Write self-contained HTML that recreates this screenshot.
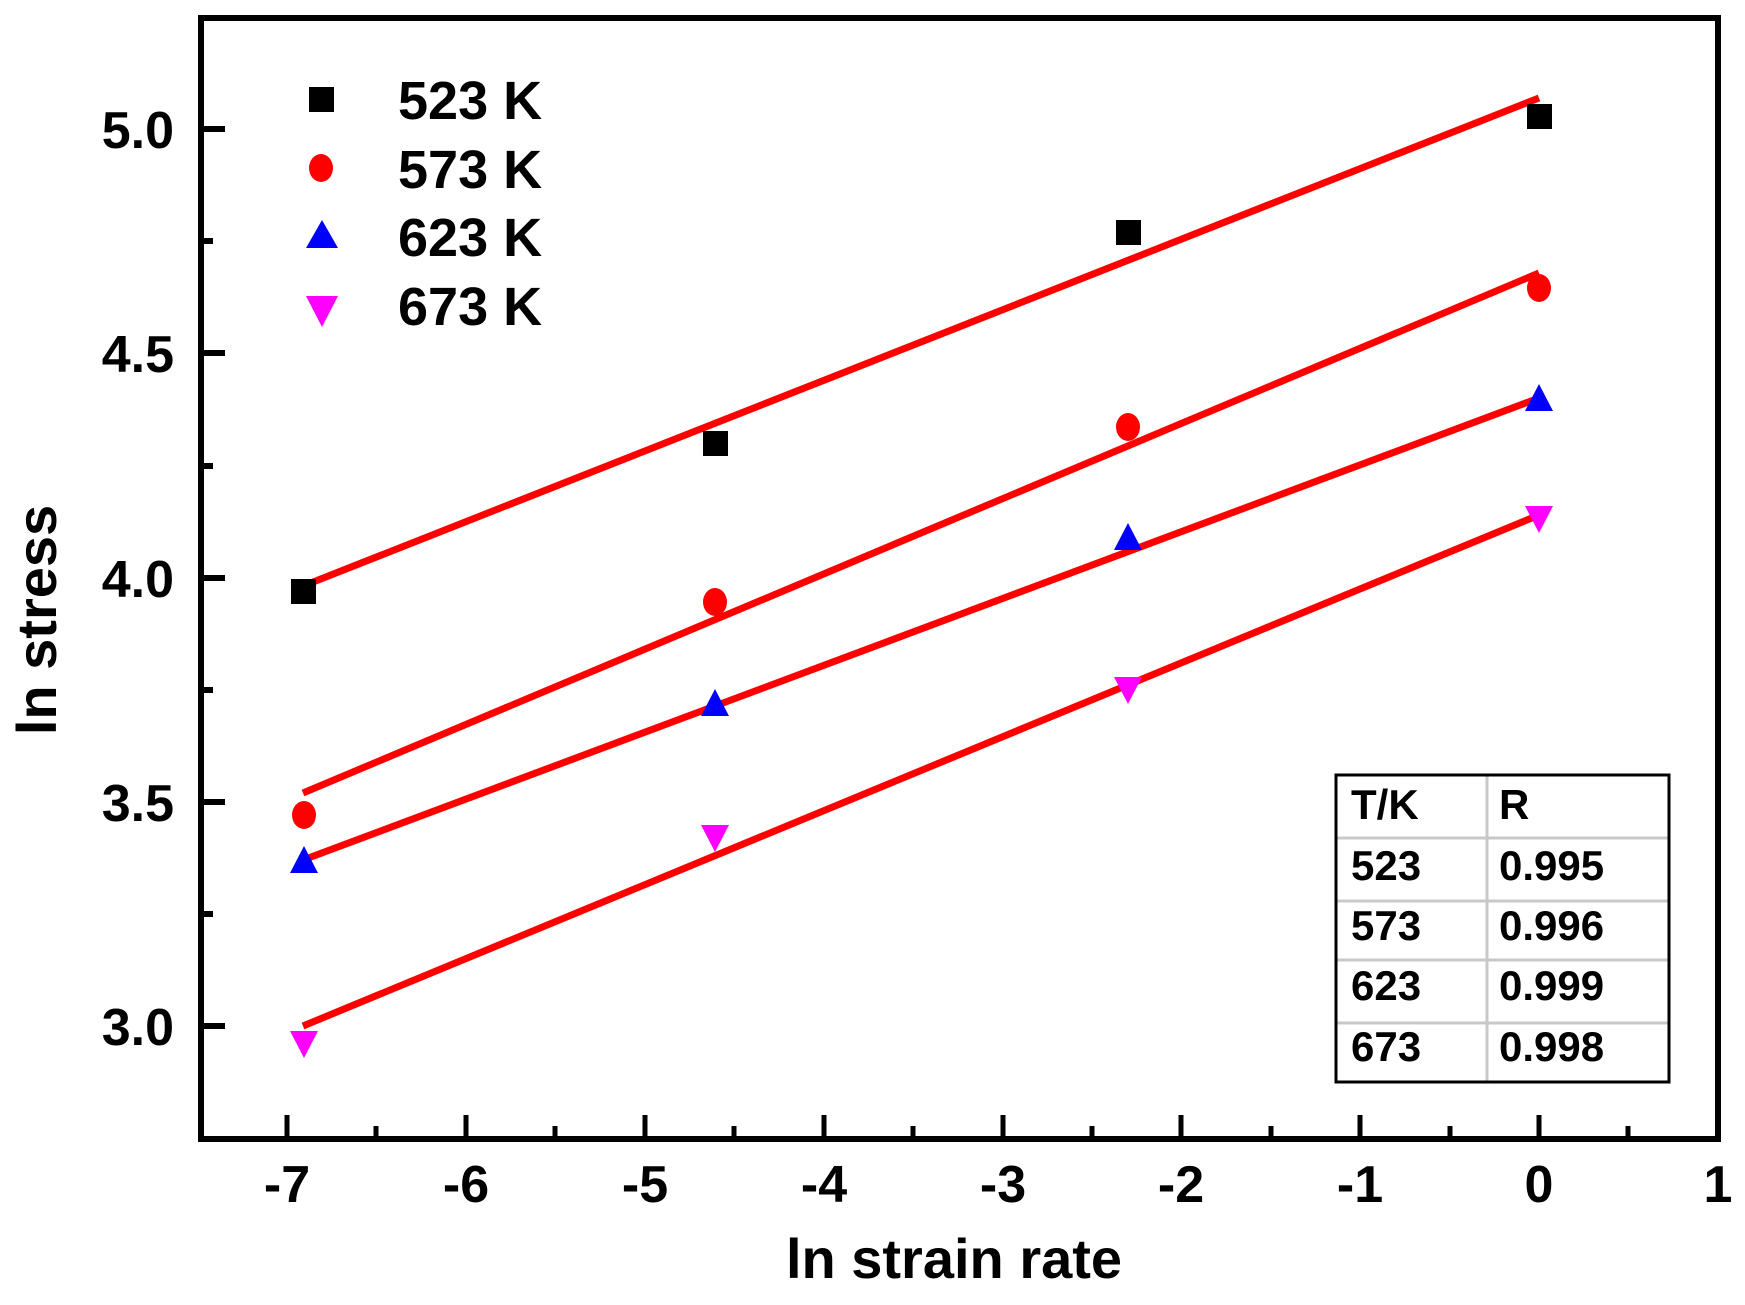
<!DOCTYPE html>
<html><head><meta charset="utf-8"><style>
html,body{margin:0;padding:0;background:#fff;}
svg{display:block;}
text{font-family:"Liberation Sans",Arial,sans-serif;font-weight:bold;fill:#000;}
</style></head><body>
<svg width="1745" height="1305" viewBox="0 0 1745 1305" xmlns="http://www.w3.org/2000/svg">
<!-- fit lines -->
<g stroke="#ff0000" stroke-width="7" stroke-linecap="butt">
<line x1="303" y1="586" x2="1539" y2="98"/>
<line x1="303" y1="793" x2="1539" y2="273"/>
<line x1="303" y1="860" x2="1539" y2="398"/>
<line x1="303" y1="1026" x2="1539" y2="515"/>
</g>
<!-- 523 squares -->
<g fill="#000">
<rect x="291" y="579" width="25" height="25"/>
<rect x="703" y="431" width="25" height="25"/>
<rect x="1116" y="220" width="25" height="25"/>
<rect x="1527" y="104" width="25" height="25"/>
</g>
<!-- 573 circles -->
<g fill="#ff0000">
<ellipse cx="304" cy="815" rx="12" ry="14"/>
<ellipse cx="715" cy="602" rx="12" ry="14"/>
<ellipse cx="1128" cy="427" rx="12" ry="14"/>
<ellipse cx="1539" cy="288" rx="12" ry="14"/>
</g>
<!-- 623 triangles -->
<g fill="#0000ff">
<polygon points="304,846 290,873 318,873"/>
<polygon points="715,689 701,716 729,716"/>
<polygon points="1128,523 1114,550 1142,550"/>
<polygon points="1539,384 1525,411 1553,411"/>
</g>
<!-- 673 inverted triangles -->
<g fill="#ff00ff">
<polygon points="290,1031 318,1031 304,1058"/>
<polygon points="701,825 729,825 715,852"/>
<polygon points="1114,677 1142,677 1128,704"/>
<polygon points="1525,506 1553,506 1539,533"/>
</g>
<!-- axes frame -->
<rect x="201" y="18" width="1517" height="1121" fill="none" stroke="#000" stroke-width="6"/>
<!-- y ticks -->
<g stroke="#000" stroke-width="6">
<line x1="201" y1="129" x2="225" y2="129"/>
<line x1="201" y1="353" x2="225" y2="353"/>
<line x1="201" y1="578" x2="225" y2="578"/>
<line x1="201" y1="802" x2="225" y2="802"/>
<line x1="201" y1="1026" x2="225" y2="1026"/>
<line x1="201" y1="241" x2="213" y2="241"/>
<line x1="201" y1="466" x2="213" y2="466"/>
<line x1="201" y1="690" x2="213" y2="690"/>
<line x1="201" y1="914" x2="213" y2="914"/>
</g>
<!-- x ticks -->
<g stroke="#000" stroke-width="5">
<line x1="287" y1="1139" x2="287" y2="1115"/>
<line x1="466" y1="1139" x2="466" y2="1115"/>
<line x1="645" y1="1139" x2="645" y2="1115"/>
<line x1="824" y1="1139" x2="824" y2="1115"/>
<line x1="1003" y1="1139" x2="1003" y2="1115"/>
<line x1="1181" y1="1139" x2="1181" y2="1115"/>
<line x1="1360" y1="1139" x2="1360" y2="1115"/>
<line x1="1539" y1="1139" x2="1539" y2="1115"/>
<line x1="376" y1="1139" x2="376" y2="1126"/>
<line x1="555" y1="1139" x2="555" y2="1126"/>
<line x1="734" y1="1139" x2="734" y2="1126"/>
<line x1="913" y1="1139" x2="913" y2="1126"/>
<line x1="1092" y1="1139" x2="1092" y2="1126"/>
<line x1="1271" y1="1139" x2="1271" y2="1126"/>
<line x1="1450" y1="1139" x2="1450" y2="1126"/>
<line x1="1628" y1="1139" x2="1628" y2="1126"/>
</g>
<!-- y tick labels -->
<g font-size="52" text-anchor="end">
<text x="174" y="148">5.0</text>
<text x="174" y="372">4.5</text>
<text x="174" y="597">4.0</text>
<text x="174" y="821">3.5</text>
<text x="174" y="1045">3.0</text>
</g>
<!-- x tick labels -->
<g font-size="52" text-anchor="middle">
<text x="287" y="1202">-7</text>
<text x="466" y="1202">-6</text>
<text x="645" y="1202">-5</text>
<text x="824" y="1202">-4</text>
<text x="1003" y="1202">-3</text>
<text x="1181" y="1202">-2</text>
<text x="1360" y="1202">-1</text>
<text x="1539" y="1202">0</text>
<text x="1718" y="1202">1</text>
</g>
<!-- axis titles -->
<text x="954" y="1278" font-size="56" text-anchor="middle">ln strain rate</text>
<text transform="translate(56,620) rotate(-90)" font-size="56" text-anchor="middle">ln stress</text>
<!-- legend -->
<rect x="309" y="87" width="25" height="25" fill="#000"/>
<ellipse cx="321" cy="168" rx="12" ry="14" fill="#ff0000"/>
<polygon points="322,220 306,248 338,248" fill="#0000ff"/>
<polygon points="306,296 338,296 322,327" fill="#ff00ff"/>
<g font-size="54">
<text x="398" y="119">523 K</text>
<text x="398" y="188">573 K</text>
<text x="398" y="256">623 K</text>
<text x="398" y="325">673 K</text>
</g>
<!-- table -->
<g stroke="#c8c8c8" stroke-width="3">
<line x1="1487" y1="775" x2="1487" y2="1082"/>
<line x1="1336" y1="838" x2="1669" y2="838"/>
<line x1="1336" y1="901" x2="1669" y2="901"/>
<line x1="1336" y1="960" x2="1669" y2="960"/>
<line x1="1336" y1="1023" x2="1669" y2="1023"/>
</g>
<rect x="1336" y="775" width="333" height="307" fill="none" stroke="#000" stroke-width="3"/>
<g font-size="42">
<text x="1351" y="819">T/K</text><text x="1499" y="819">R</text>
<text x="1351" y="880">523</text><text x="1499" y="880">0.995</text>
<text x="1351" y="940">573</text><text x="1499" y="940">0.996</text>
<text x="1351" y="1000">623</text><text x="1499" y="1000">0.999</text>
<text x="1351" y="1061">673</text><text x="1499" y="1061">0.998</text>
</g>
</svg>
</body></html>
